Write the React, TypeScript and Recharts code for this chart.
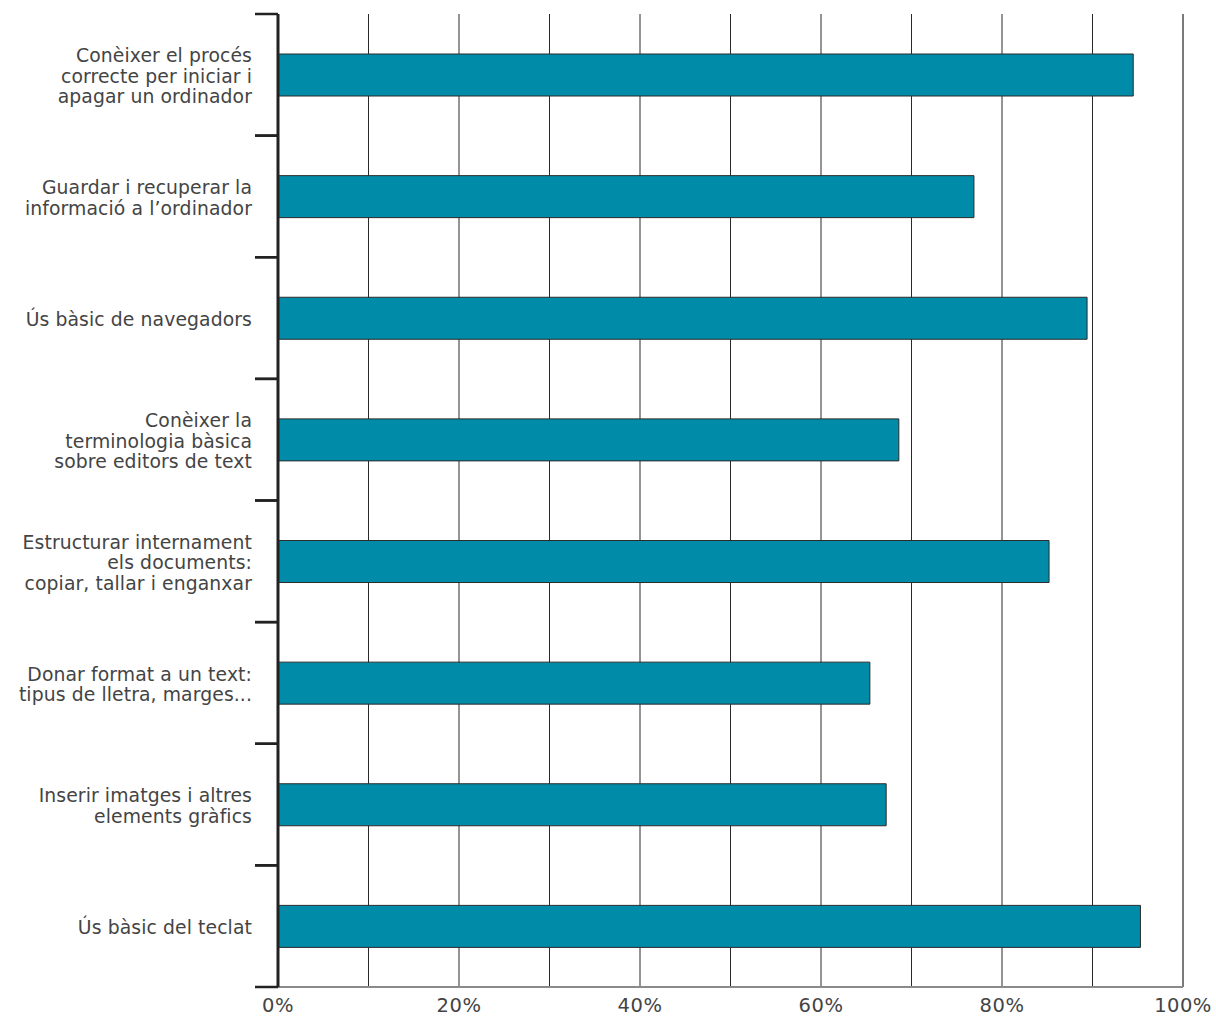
import { Bar, BarChart, CartesianGrid, ReferenceLine, XAxis, YAxis } from "recharts";

const categories = [
  "Conèixer el procés\ncorrecte per iniciar i\napagar un ordinador",
  "Guardar i recuperar la\ninformació a l’ordinador",
  "Ús bàsic de navegadors",
  "Conèixer la\nterminologia bàsica\nsobre editors de text",
  "Estructurar internament\nels documents:\ncopiar, tallar i enganxar",
  "Donar format a un text:\ntipus de lletra, marges...",
  "Inserir imatges i altres\nelements gràfics",
  "Ús bàsic del teclat",
];
const percentages = [94.5, 76.9, 89.4, 68.6, 85.2, 65.4, 67.2, 95.3];
const xTicks = [0, 10, 20, 30, 40, 50, 60, 70, 80, 90, 100];

const data = categories.map((name, i) => ({ name, value: percentages[i] }));

const FONT = "'DejaVu Sans', sans-serif";
const TICK_MARGIN = 26;
const TICK_LEN = 23;

const CategoryTick = (props: any) => {
  const { x, y, payload } = props;
  const lines = String(payload.value).split("\n");
  const lh = 20.5;
  const y0 = y + 1 - ((lines.length - 1) * lh) / 2;
  const half = payload.offset || 60.8;
  const ax = x + TICK_MARGIN;
  return (
    <g>
      <text
        x={x}
        y={y0}
        textAnchor="end"
        fontSize={18.8}
        fill="#444"
        fontFamily={FONT}
        letterSpacing={0.1}
        dominantBaseline="central"
      >
        {lines.map((l, i) => (
          <tspan key={i} x={x} dy={i === 0 ? 0 : lh}>
            {l}
          </tspan>
        ))}
      </text>
      <line x1={ax - TICK_LEN} x2={ax} y1={y - half} y2={y - half} stroke="#222" strokeWidth={2.5} />
      <line x1={ax - TICK_LEN} x2={ax} y1={y + half} y2={y + half} stroke="#222" strokeWidth={2.5} />
    </g>
  );
};

export default function App() {
  return (
    <div style={{ position: "absolute", left: 0, top: 0, background: "#fff" }}>
      <BarChart
        width={1216}
        height={1017}
        data={data}
        layout="vertical"
        margin={{ top: 14, right: 33, bottom: 0, left: 0 }}
        barCategoryGap={0}
      >
        <CartesianGrid horizontal={false} stroke="#2a2a2a" strokeOpacity={1} xAxisId="main" />
        <XAxis
          xAxisId="main"
          type="number"
          domain={[0, 100]}
          ticks={xTicks}
          interval={0}
          tickFormatter={(v: number) => (v % 20 === 0 ? `${v}%` : "")}
          tickLine={false}
          axisLine={{ stroke: "#8a8a8a", strokeWidth: 2 }}
          height={30}
          tick={{ fill: "#444", fontSize: 19.5, fontFamily: FONT, letterSpacing: 0.5 }}
          tickMargin={5}
        />
        <XAxis
          xAxisId="top"
          orientation="top"
          type="number"
          domain={[0, 100]}
          height={0}
          tick={false}
          tickLine={false}
          axisLine={{ stroke: "#777", strokeWidth: 2 }}
        />
        <YAxis
          type="category"
          dataKey="name"
          width={278}
          interval={0}
          tickLine={false}
          tickSize={0}
          tickMargin={TICK_MARGIN}
          axisLine={{ stroke: "#222", strokeWidth: 3 }}
          tick={<CategoryTick />}
        />
        <ReferenceLine xAxisId="main" x={100} stroke="#7a7a7a" strokeWidth={2} />
        <Bar
          xAxisId="main"
          dataKey="value"
          fill="#008ba8"
          stroke="#2b2b2b"
          strokeWidth={1}
          barSize={42}
          isAnimationActive={false}
        />
      </BarChart>
    </div>
  );
}
